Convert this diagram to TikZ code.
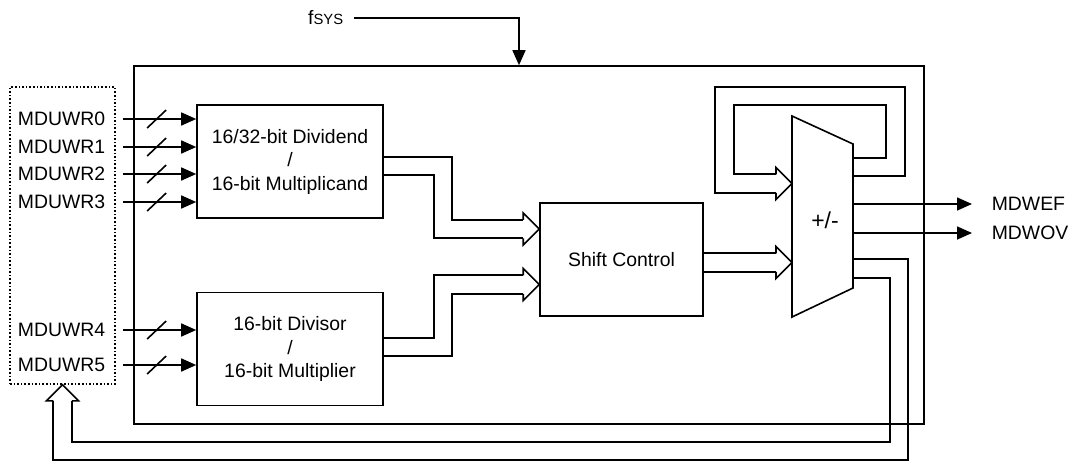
\documentclass[tikz,border=0pt]{standalone}
\usepackage{fontspec}
\setmainfont{Liberation Sans}
\usetikzlibrary{arrows.meta,calc,backgrounds}

\begin{document}
\begin{tikzpicture}[
    x=0.5pt, y=-0.5pt,
    line width=0.8pt,
    font=\fontsize{9.7}{11.75}\selectfont,
    blk/.style={draw, minimum width=93pt, minimum height=56.5pt, align=center, inner sep=2pt},
    sig/.style={-{Triangle[length=7.5pt, width=6.5pt]}},
    fat/.style={double, line width=0.8pt, double distance=8.45pt},
    lbl/.style={inner sep=2pt},
    busmark/.pic={\draw[-] (-9.5,9) -- (9.5,-9);},
    fathead/.pic={\draw[-] (-16,-9.25) -- (-16,-16) -- (0,0) -- (-16,16) -- (-16,9.25);}
]
\useasboundingbox (0,0) rectangle (1070,462);

% frame and blocks
\node[draw, minimum width=395pt, minimum height=179pt] (mdu) at (529,245) {};
\node[draw, densely dotted, minimum width=52.5pt, minimum height=148.5pt] (regs) at (62.5,235.5) {};
\node[blk] (dvd) at (290,161.5) {16/32-bit Dividend\\/\\16-bit Multiplicand};
\node[blk] (dvs) at (290,349) {16-bit Divisor\\/\\16-bit Multiplier};
\node[blk, minimum width=81.5pt] (shc) at (621.5,259.5) {Shift Control};

\coordinate (a1) at (792,116);
\coordinate (a2) at (853,144);
\coordinate (a3) at (853,288);
\coordinate (a4) at (792,317);

% register inputs
\foreach \i/\y in {0/119,1/147,2/174,3/202,4/330,5/365}
  \node[lbl, anchor=east] (w\i) at (110,\y) {MDUWR\i};
\foreach \i in {0,...,3}
  \draw[sig] ([xshift=6.5pt]w\i.east) -- (w\i -| dvd.west) pic[pos=0.46] {busmark};
\foreach \i in {4,5}
  \draw[sig] ([xshift=6.5pt]w\i.east) -- (w\i -| dvs.west) pic[pos=0.46] {busmark};

% clock
\node[lbl, anchor=east] (fs) at (348,18) {f{\fontsize{7.4}{8}\selectfont SYS}};
\draw[sig] ([xshift=3pt]fs.east) -| ([xshift=-5pt]mdu.north);

% wide buses
\draw[fat] ($(dvd.east)+(0,4.5)$) -| (443,229) -- ($(shc.west)+(-16,-30.5)$);
\pic at ($(shc.west)+(0,-30.5)$) {fathead};
\draw[fat] ($(dvs.east)+(0,-2)$) -| (443,284.5) -- ($(shc.west)+(-16,25)$);
\pic at ($(shc.west)+(0,25)$) {fathead};
\draw[fat] ($(shc.east)+(0,3)$) -- ($(shc.east -| a1)+(-16,3)$);
\pic at ($(shc.east -| a1)+(0,3)$) {fathead};
% feedback round the adder
\draw[fat] ($(a2)+(0,23)$) -- ++(42.5,0) |- (724.5,96) |- ($(a1)+(-16,67.5)$);
\pic at ($(a1)+(0,67.5)$) {fathead};
% back to the registers
\begin{scope}[on background layer]
\draw[fat] ($(a3)+(0,-19.5)$) -| (899,451) -| ($(regs.south)+(0,16)$);
\end{scope}
\pic[rotate=90] at (regs.south) {fathead};

% adder
\draw (a1) -- (a2) -- (a3) -- (a4) -- cycle;
\node[font=\fontsize{11.5}{13}\selectfont] (add) at (825,220) {+/-};

% flags
\node[lbl, anchor=west] (ef) at (987,204) {MDWEF};
\node[lbl, anchor=west] (ov) at (987,233) {MDWOV};
\draw[sig] (a2 |- ef) -- ([xshift=-7.5pt]ef.west);
\draw[sig] (a2 |- ov) -- ([xshift=-7.5pt]ov.west);
\end{tikzpicture}
\end{document}
